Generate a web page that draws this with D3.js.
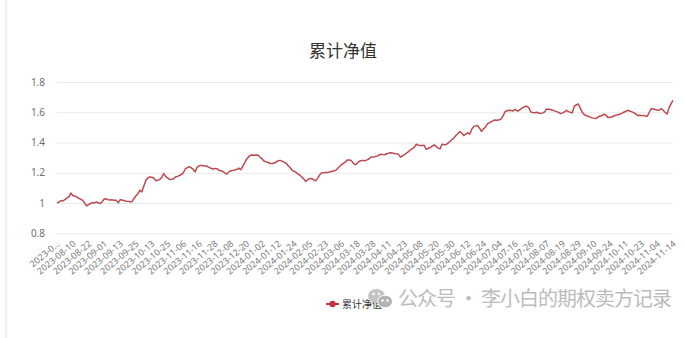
<!DOCTYPE html>
<html>
<head>
<meta charset="utf-8">
<script src="https://cdn.jsdelivr.net/npm/d3@7/dist/d3.min.js"></script>
<style>
	html, body { margin: 0; padding: 0; background: #fff; }
	svg { display: block; font-family: "Noto Sans CJK SC", "Noto Sans", sans-serif; }
</style>
</head>
<body>
<div id="chart"></div>
<script>
/* chart text */
const chartTitle = "累计净值";
const seriesName = "累计净值";
const watermarkText = "公众号 · 李小白的期权卖方记录";

/* category labels, one every 8 trading days */
const tickDates = [
	"2023-07-31", "2023-08-10", "2023-08-22", "2023-09-01", "2023-09-13", "2023-09-25",
	"2023-10-13", "2023-10-25", "2023-11-06", "2023-11-16", "2023-11-28", "2023-12-08",
	"2023-12-20", "2024-01-02", "2024-01-12", "2024-01-24", "2024-02-05", "2024-02-23",
	"2024-03-06", "2024-03-18", "2024-03-28", "2024-04-11", "2024-04-23", "2024-05-08",
	"2024-05-20", "2024-05-30", "2024-06-12", "2024-06-24", "2024-07-04", "2024-07-16",
	"2024-07-26", "2024-08-07", "2024-08-19", "2024-08-29", "2024-09-10", "2024-09-24",
	"2024-10-11", "2024-10-23", "2024-11-04", "2024-11-14"
];
const tickEvery = 8;

/* y axis ticks */
const yTicks = [0.8, 1, 1.2, 1.4, 1.6, 1.8];

/* daily cumulative NAV */
const navValues = [
	1.000, 1.006, 1.016, 1.014, 1.022, 1.032, 1.041, 1.066, 1.050, 1.046,
	1.040, 1.031, 1.026, 1.018, 1.000, 0.981, 0.990, 0.997, 1.003, 1.001,
	1.007, 1.000, 0.997, 1.010, 1.029, 1.027, 1.022, 1.020, 1.021, 1.018,
	1.018, 1.001, 1.022, 1.020, 1.016, 1.012, 1.011, 1.008, 1.009, 1.030,
	1.048, 1.062, 1.084, 1.074, 1.112, 1.150, 1.165, 1.173, 1.170, 1.166,
	1.148, 1.150, 1.156, 1.168, 1.195, 1.176, 1.166, 1.156, 1.157, 1.160,
	1.172, 1.176, 1.182, 1.190, 1.200, 1.226, 1.234, 1.240, 1.232, 1.222,
	1.205, 1.238, 1.246, 1.249, 1.247, 1.245, 1.243, 1.236, 1.230, 1.225,
	1.229, 1.227, 1.217, 1.213, 1.209, 1.200, 1.191, 1.206, 1.212, 1.216,
	1.219, 1.221, 1.231, 1.220, 1.240, 1.264, 1.290, 1.305, 1.316, 1.318,
	1.316, 1.317, 1.316, 1.300, 1.290, 1.276, 1.272, 1.268, 1.261, 1.262,
	1.265, 1.271, 1.280, 1.282, 1.277, 1.270, 1.264, 1.248, 1.235, 1.218,
	1.210, 1.204, 1.192, 1.185, 1.172, 1.160, 1.142, 1.155, 1.161, 1.162,
	1.155, 1.147, 1.163, 1.185, 1.198, 1.201, 1.202, 1.202, 1.205, 1.209,
	1.212, 1.215, 1.226, 1.240, 1.253, 1.262, 1.270, 1.285, 1.284, 1.282,
	1.265, 1.253, 1.262, 1.276, 1.280, 1.282, 1.279, 1.285, 1.291, 1.304,
	1.305, 1.306, 1.310, 1.316, 1.323, 1.320, 1.319, 1.326, 1.330, 1.332,
	1.330, 1.327, 1.325, 1.322, 1.303, 1.312, 1.320, 1.330, 1.340, 1.352,
	1.360, 1.369, 1.389, 1.382, 1.380, 1.381, 1.382, 1.354, 1.362, 1.367,
	1.376, 1.385, 1.375, 1.363, 1.358, 1.389, 1.386, 1.385, 1.396, 1.407,
	1.418, 1.429, 1.446, 1.458, 1.473, 1.462, 1.446, 1.455, 1.464, 1.455,
	1.485, 1.505, 1.510, 1.512, 1.495, 1.473, 1.490, 1.501, 1.523, 1.530,
	1.538, 1.545, 1.549, 1.547, 1.550, 1.556, 1.578, 1.605, 1.610, 1.613,
	1.611, 1.609, 1.620, 1.609, 1.612, 1.622, 1.631, 1.638, 1.640, 1.629,
	1.602, 1.598, 1.596, 1.600, 1.595, 1.591, 1.596, 1.602, 1.622, 1.620,
	1.618, 1.613, 1.609, 1.604, 1.600, 1.591, 1.596, 1.602, 1.613, 1.604,
	1.600, 1.596, 1.640, 1.648, 1.655, 1.629, 1.600, 1.585, 1.578, 1.574,
	1.568, 1.563, 1.560, 1.558, 1.569, 1.574, 1.578, 1.587, 1.582, 1.565,
	1.567, 1.569, 1.575, 1.580, 1.583, 1.587, 1.593, 1.600, 1.605, 1.613,
	1.608, 1.604, 1.597, 1.591, 1.578, 1.580, 1.579, 1.578, 1.576, 1.574,
	1.600, 1.624, 1.621, 1.618, 1.614, 1.613, 1.624, 1.613, 1.600, 1.589,
	1.629, 1.655, 1.679
];

const width = 685, height = 338;
const plot = { left: 57, right: 673, top: 82, bottom: 233.3 };
const lineColor = "#bd4950";

const svg = d3.select("#chart").append("svg")
	.attr("width", width)
	.attr("height", height);

/* faint card edge on the left */
svg.append("line")
	.attr("x1", 6).attr("x2", 6).attr("y1", 0).attr("y2", height)
	.attr("stroke", "#efefef").attr("stroke-width", 2);

/* title */
svg.append("text")
	.attr("x", 343).attr("y", 57)
	.attr("text-anchor", "middle")
	.attr("font-size", 17)
	.attr("fill", "#333")
	.text(chartTitle);

const x = d3.scalePoint()
	.domain(d3.range(navValues.length))
	.range([plot.left, plot.right]);

const y = d3.scaleLinear()
	.domain([0.8, 1.8])
	.range([plot.bottom, plot.top]);

/* horizontal grid + y labels */
const yAxis = d3.axisLeft(y)
	.tickValues(yTicks)
	.tickSize(-(plot.right - plot.left))
	.tickPadding(12)
	.tickFormat(d => String(+d.toFixed(1)));

svg.append("g")
	.attr("transform", `translate(${plot.left},0)`)
	.call(yAxis)
	.call(g => g.select(".domain").remove())
	.call(g => g.selectAll(".tick line").attr("stroke", "#e8e8e8"))
	.call(g => g.selectAll(".tick text")
		.attr("fill", "#6e6e6e")
		.attr("font-size", 10)
		.attr("font-family", "\"Noto Sans\", sans-serif"));

/* x axis: rotated date labels every 8 points */
const tickIdx = tickDates.map((_, i) => i * tickEvery);
const xAxis = d3.axisBottom(x)
	.tickValues(tickIdx)
	.tickSize(0)
	.tickPadding(0)
	.tickFormat((d, i) => i === 0 ? tickDates[i].slice(0, 6) + "..." : tickDates[i]);

svg.append("g")
	.attr("transform", `translate(0,${plot.bottom})`)
	.call(xAxis)
	.call(g => g.select(".domain").remove())
	.call(g => g.selectAll(".tick text")
		.attr("fill", "#7a7a7a")
		.attr("font-size", 9)
		.attr("font-family", "\"Noto Sans\", sans-serif")
		.attr("text-anchor", "end")
		.attr("dy", "0.35em")
		.attr("transform", "translate(1,9) rotate(-40)"));

/* the NAV line */
const line = d3.line()
	.x((d, i) => x(i))
	.y(d => y(d));

svg.append("path")
	.datum(navValues)
	.attr("fill", "none")
	.attr("stroke", lineColor)
	.attr("stroke-width", 1.5)
	.attr("stroke-linejoin", "round")
	.attr("d", line);

/* legend */
const legend = svg.append("g").attr("transform", "translate(326,304)");
legend.append("line")
	.attr("x1", 0).attr("x2", 13)
	.attr("stroke", "#c9323a").attr("stroke-width", 2);
legend.append("circle")
	.attr("cx", 6.5).attr("r", 3.2)
	.attr("fill", "#c9323a");
legend.append("text")
	.attr("x", 16).attr("dy", "0.35em")
	.attr("font-size", 10)
	.attr("fill", "#333")
	.text(seriesName);

/* watermark: wechat bubbles + account name */
const wm = svg.append("g").attr("transform", "translate(368,289)");
wm.append("ellipse")
	.attr("cx", 8.5).attr("cy", 7).attr("rx", 8.5).attr("ry", 7)
	.attr("fill", "#c4c4c4");
wm.append("ellipse")
	.attr("cx", 17).attr("cy", 12.5).attr("rx", 7.5).attr("ry", 6.3)
	.attr("fill", "#b3b3b3").attr("stroke", "#fff").attr("stroke-width", 1);
[[5.5, 5], [11, 5], [14.5, 11.5], [19.5, 11.5]].forEach(([cx, cy]) => {
	wm.append("circle").attr("cx", cx).attr("cy", cy).attr("r", 1.2).attr("fill", "#fff");
});

svg.append("text")
	.attr("x", 398).attr("y", 306)
	.attr("font-size", 20)
	.attr("fill", "#bcbcbc")
	.attr("textLength", 274)
	.text(watermarkText);
</script>
</body>
</html>
